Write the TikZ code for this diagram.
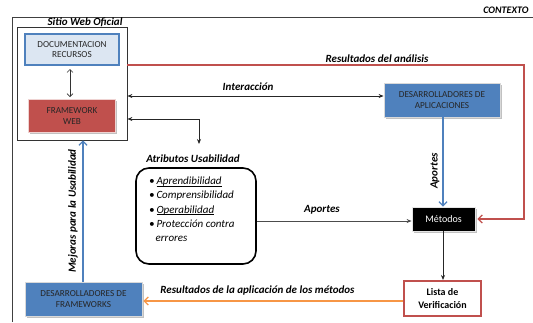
\documentclass[tikz,border=0pt]{standalone}
\usepackage{fontspec}
\setmainfont{Carlito}
\usetikzlibrary{arrows.meta,shadows,calc}
\definecolor{cblue}{HTML}{4F81BD}
\definecolor{lblue}{HTML}{DCE6F2}
\definecolor{cred}{HTML}{C0504D}
\definecolor{corange}{HTML}{F79646}
\definecolor{txtdark}{HTML}{262626}
\newcommand\myul[1]{\underline{\smash{#1}}}
\begin{document}
\begin{tikzpicture}[x=1pt,y=-1pt,
  lab/.style={font=\fontsize{11}{13}\selectfont\bfseries\itshape},
  boxtxt/.style={font=\fontsize{9.2}{10.5}\selectfont, text=txtdark, align=center, inner sep=0pt},
  shad/.style={drop shadow={shadow xshift=1.6pt, shadow yshift=-1.6pt, fill=black!35, opacity=.7}},
  bluebox/.style={boxtxt, shad, fill=cblue, draw=black!15, line width=0.8pt},
  filled/.style={-{Stealth[length=5pt,width=4pt]}},
  open/.style={-{Straight Barb[length=4pt,width=8pt]}},
  blk/.style={draw=black!85, line width=0.8pt}
]
\useasboundingbox (0,0) rectangle (533,322);

% outer frame
\coordinate (ftl) at (12,17);
\coordinate (ftr) at (533,17);
\coordinate (fbl) at (12,322);
\draw[black!75, line width=0.8pt] (fbl) -- (ftl) -- (ftr);
\node[lab, anchor=east, font=\fontsize{10}{12}\selectfont\bfseries\itshape] (ctx) at (532,10) {CONTEXTO};

% Sitio Web Oficial
\node[draw=black!80, line width=0.8pt, minimum width=110pt, minimum height=113pt, inner sep=0pt] (sitio) at (72,83.5) {};
\node[lab] (sitiot) at (85,22) {Sitio Web Oficial};
\node[boxtxt, fill=lblue, draw=cblue, line width=2pt, minimum width=94pt, minimum height=31pt] (doc) at (72,49.5) {DOCUMENTACION\\RECURSOS};
\node[boxtxt, shad, fill=cred, draw=cred!25, line width=1pt, minimum width=87pt, minimum height=33pt, text=black!85] (fw) at (72,116) {FRAMEWORK\\WEB};
\draw[black!80, line width=0.6pt, {Straight Barb[length=3pt,width=6pt]}-{Straight Barb[length=3pt,width=6pt]}] ([xshift=-2pt,yshift=-3pt]doc.south) -- ([xshift=-2pt,yshift=2pt]fw.north);

% right side nodes
\node[bluebox, minimum width=116pt, minimum height=34pt] (apps) at (442,100) {DESARROLLADORES DE\\APLICACIONES};
\node[boxtxt, shad, fill=black, draw=black!10, line width=0.8pt, text=white, minimum width=63pt, minimum height=24pt, font=\fontsize{10}{12}\selectfont] (met) at (443.5,219) {Métodos};
\node[boxtxt, fill=white, draw=cred, line width=2pt, minimum width=77pt, minimum height=35pt, text=black, font=\fontsize{10}{12.5}\selectfont\bfseries] (lista) at (442.5,298.5) {Lista de\\Verificación};
\node[bluebox, minimum width=117pt, minimum height=34pt] (fws) at (83.5,299) {DESARROLLADORES DE\\FRAMEWORKS};

% Atributos
\node[lab] (attrt) at (193,159) {Atributos Usabilidad};
\node[draw=black, line width=1.6pt, rounded corners=13pt, minimum width=120pt, minimum height=96pt] (attr) at (196,216) {};
\node[anchor=north west, align=left, inner sep=0pt, font=\fontsize{11}{14.2}\selectfont\itshape] (attrtxt) at (149,179.5) {%
\textbullet\,\myul{Aprendibilidad}\\
\textbullet\,Comprensibilidad\\
\textbullet\,\myul{Operabilidad}\\
\textbullet\,Protección contra\\
\hspace*{6.5pt}errores};

% connectors
\draw[blk, {Stealth[length=5pt,width=4pt]}-{Stealth[length=5pt,width=4pt]}] (sitio.east |- 0,96) -- (apps.west |- 0,96);
\node[lab] (interl) at (248,87) {Interacción};

\coordinate (bend1) at (199,119);
\draw[blk, {Stealth[length=5pt,width=4pt]}-{Stealth[length=5pt,width=4pt]}] (sitio.east |- bend1) -- (bend1) -- (199,144);

\coordinate (rc1) at (524,65);
\draw[cred, line width=1.3pt, open] (sitio.east |- rc1) -- (rc1) -- (rc1 |- met.east) -- ([xshift=2pt]met.east);
\node[lab] (resl) at (377,59) {Resultados del análisis};

\draw[cblue, line width=1.3pt, open] (apps.south -| 443,0) -- (met.north -| 443,0);
\node[lab, rotate=90] (apl) at (435,171) {Aportes};

\draw[draw=black!70, line width=0.9pt, filled] (attr.east |- 0,221) -- (met.west |- 0,221);
\node[lab] (apl2) at (322,210) {Aportes};

\draw[blk, filled] (met.south -| 443,0) -- (lista.north -| 443,0);

\draw[corange, line width=1.3pt, open] (lista.west |- 0,301) -- ([xshift=1pt]fws.east |- 0,301);
\node[lab] (resap) at (257.5,290) {Resultados de la aplicación de los métodos};

\draw[cblue, line width=1.3pt, open] (fws.north -| 83,0) -- (sitio.south -| 83,0);
\node[lab, rotate=90] (mej) at (73,211) {Mejoras para la Usabilidad};
\end{tikzpicture}
\end{document}
